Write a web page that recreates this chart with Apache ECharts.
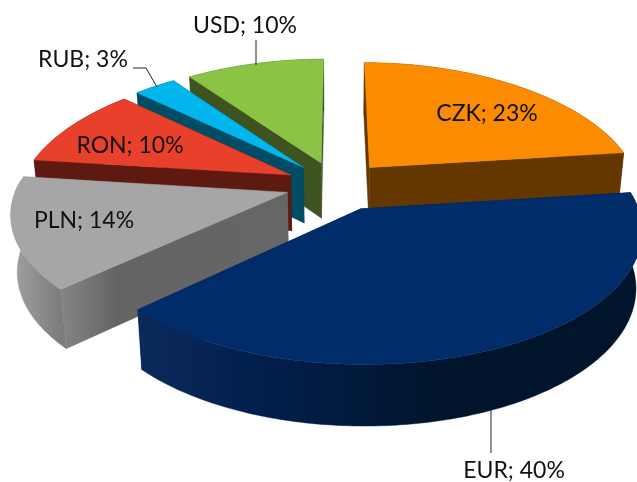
<!DOCTYPE html>
<html>
<head>
<meta charset="utf-8">
<script src="https://cdn.jsdelivr.net/npm/echarts@6/dist/echarts.min.js"></script>
<style>html,body{margin:0;padding:0;background:#fff}#c{width:637px;height:482px}</style>
</head>
<body>
<div id="c"></div>
<script>
// Data, clockwise from twelve o'clock
const categories = ['CZK', 'EUR', 'PLN', 'RON', 'RUB', 'USD'];
const shares = [23, 40, 14, 10, 3, 10];

// Styling
const topColors = ['#fb8c00', '#002c6a', '#a6a6a6', '#e8402b', '#00b6ec', '#8bc344'];
const wallColors = ['#643700', '#00205a', '#626262', '#5e1a11', '#004c64', '#3e5320'];
const rimStops = [
  ['#643700', '#643700'], ['#0b2a5c', '#00142c'], ['#a2a2a2', '#7c7c7c'],
  ['#5e1a11', '#5e1a11'], ['#004c64', '#004c64'], ['#3e5320', '#3e5320']
];
const paintOrder = [5, 4, 3, 2, 0, 1];
const labelCentres = [[487, 114], [514, 471], [84, 221], [130, 146], [83, 60], [245, 26]];
const leaders = [null, [[491, 410], [491, 453]], null, null, [[133, 68], [146, 68], [157, 87]], [[256, 40], [256, 65]]];
const explosions = [0.19, 0.205, 0.19, 0.19, 0.19, 0.19];

// 3D projection of the pie
const view = { cx: 336.5, cy: 185, sx: 270, sy: 125, persp: 0.147, perspBackX: 0.19, depth: 56, taper: 0.98 };
const total = shares.reduce((a, b) => a + b, 0);

function project(X, Y, bottom) {
  const w = 1 - view.persp * Y;
  const wx = 1 - (Y < 0 ? view.perspBackX : view.persp) * Y;
  let x = view.cx + X * view.sx / wx;
  let y = view.cy + Y * view.sy / w;
  if (bottom) {
    x = view.cx + (x - view.cx) * view.taper;
    y += view.depth / Math.sqrt(w);
  }
  return [x, y];
}

function renderItem(params, api) {
  const i = params.dataIndex;
  const value = api.value(1);
  let before = 0;
  for (let k = 0; k < i; k++) before += shares[k];
  const a0 = before / total * 2 * Math.PI;
  const a1 = (before + value) / total * 2 * Math.PI;
  const mid = (a0 + a1) / 2;
  const ox = explosions[i] * Math.sin(mid), oy = -explosions[i] * Math.cos(mid);
  const at = (a, r, bottom) => project(ox + r * Math.sin(a), oy - r * Math.cos(a), bottom);
  const steps = Math.max(4, Math.round((a1 - a0) * 60));
  const arcTop = [], arcBot = [];
  for (let s = 0; s <= steps; s++) {
    const a = a0 + (a1 - a0) * s / steps;
    arcTop.push(at(a, 1, false));
    arcBot.push(at(a, 1, true));
  }
  const apexTop = at(0, 0, false), apexBot = at(0, 0, true);
  const base = paintOrder.indexOf(i) * 10;
  const xs = arcTop.map(p => p[0]);
  const rimFill = {
    type: 'linear', global: true,
    x: Math.min.apply(null, xs), y: 0, x2: Math.max.apply(null, xs), y2: 0,
    colorStops: i === 1
      ? [{ offset: 0, color: rimStops[i][0] }, { offset: 0.22, color: '#02204e' }, { offset: 0.6, color: rimStops[i][1] }, { offset: 1, color: rimStops[i][1] }]
      : [{ offset: 0, color: rimStops[i][0] }, { offset: 1, color: rimStops[i][1] }]
  };
  const wallFill = i === 2
    ? { type: 'linear', global: true, x: apexTop[0], y: 0, x2: arcTop[0][0], y2: 0,
        colorStops: [{ offset: 0, color: '#666666' }, { offset: 0.75, color: '#646464' }, { offset: 1, color: '#858585' }] }
    : wallColors[i];
  const poly = (points, fill, z) => ({ type: 'polygon', z2: base + z, shape: { points }, style: { fill, stroke: fill, lineWidth: 0.4 }, silent: true });
  const rimIsBack = Math.cos(mid) > 0;
  const children = [
    poly([apexTop, arcTop[0], arcBot[0], apexBot], wallFill, 1),
    poly([apexTop, arcTop[steps], arcBot[steps], apexBot], wallFill, 2),
    poly(arcTop.concat(arcBot.slice().reverse()), rimFill, rimIsBack ? 0 : 3),
    poly([apexTop].concat(arcTop), topColors[i], 4)
  ];
  if (leaders[i]) {
    children.push({ type: 'polyline', z2: 100, shape: { points: leaders[i] }, style: { fill: null, stroke: '#262626', lineWidth: 1 }, silent: true });
  }
  children.push({
    type: 'text', z2: 101, silent: true,
    x: labelCentres[i][0], y: labelCentres[i][1],
    style: { text: api.value(0) + '; ' + value + '%', fill: '#111', font: '23px Lato', align: 'center', verticalAlign: 'middle' }
  });
  return { type: 'group', children };
}

const chart = echarts.init(document.getElementById('c'), null, { renderer: 'canvas' });
chart.setOption({
  animation: false,
  backgroundColor: '#fff',
  series: [{
    type: 'custom',
    coordinateSystem: 'none',
    renderItem,
    clip: false,
    data: categories.map((c, i) => [c, shares[i]]),
    encode: { itemName: 0, value: 1 }
  }]
});
</script>
</body>
</html>
